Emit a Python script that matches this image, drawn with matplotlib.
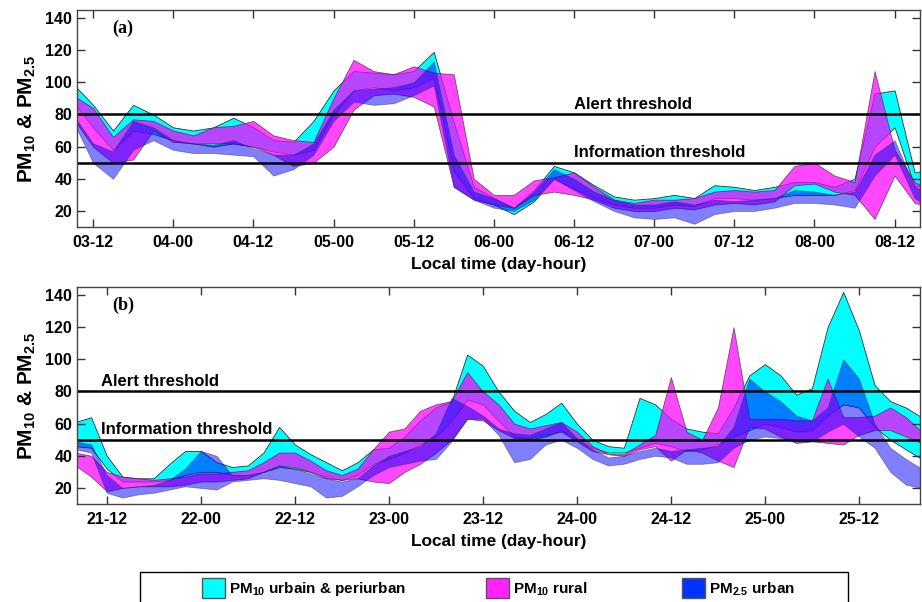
import numpy as np
import matplotlib
matplotlib.use("Agg")
import matplotlib.pyplot as plt
import matplotlib.patches as mpatches

plt.rcParams['font.family'] = 'Liberation Sans'
plt.rcParams['font.weight'] = 'bold'
plt.rcParams['mathtext.fontset'] = 'custom'
plt.rcParams['mathtext.rm'] = 'Liberation Sans'
plt.rcParams['mathtext.bf'] = 'Liberation Sans:bold'

# ---- panel (a): hours since day 03 00h, one value every 3 h
hours_a = np.arange(9, 139, 3)
ticks_a = [12, 24, 36, 48, 60, 72, 84, 96, 108, 120, 132]
labels_a = ['03-12', '04-00', '04-12', '05-00', '05-12', '06-00',
            '06-12', '07-00', '07-12', '08-00', '08-12']

cyan_hi_a = [99, 86, 70, 86, 80, 72, 70, 72, 78, 72, 64, 63, 76, 95, 107, 106, 105, 107, 119, 75,
             35, 28, 22, 33, 48, 44, 36, 29, 27, 28, 30, 28, 36, 35, 33, 35, 38, 38, 35, 40,
             93, 95, 44, 46]
cyan_lo_a = [88, 72, 58, 70, 68, 64, 62, 60, 62, 60, 57, 55, 58, 80, 95, 97, 95, 97, 103, 45,
             28, 24, 18, 26, 40, 34, 28, 24, 22, 22, 24, 23, 28, 28, 27, 28, 30, 30, 30, 33,
             60, 72, 35, 38]
mag_hi_a = [92, 84, 66, 77, 76, 70, 67, 72, 73, 76, 67, 64, 63, 90, 114, 107, 105, 110, 106, 105,
            40, 30, 30, 39, 41, 44, 35, 27, 25, 27, 27, 28, 32, 33, 32, 33, 48, 50, 42, 38,
            107, 58, 38, 32]
mag_lo_a = [78, 60, 50, 52, 70, 63, 62, 62, 62, 60, 55, 48, 50, 60, 83, 92, 93, 91, 85, 35,
            27, 24, 22, 30, 32, 30, 27, 22, 20, 20, 22, 21, 24, 25, 24, 26, 36, 37, 32, 30,
            15, 42, 25, 22]
blue_hi_a = [80, 62, 57, 76, 72, 64, 62, 61, 64, 59, 55, 55, 62, 83, 95, 96, 97, 100, 113, 55,
             32, 28, 22, 32, 46, 40, 32, 27, 24, 24, 26, 24, 27, 26, 27, 28, 33, 32, 30, 32,
             55, 64, 35, 30]
blue_lo_a = [76, 50, 40, 58, 64, 58, 56, 56, 55, 54, 42, 46, 55, 76, 88, 86, 87, 92, 98, 35,
             27, 22, 20, 27, 40, 33, 26, 20, 16, 15, 16, 12, 18, 20, 20, 22, 25, 25, 24, 22,
             42, 55, 28, 20]

# ---- panel (b): hours since day 21 00h, one value every 2 h
hours_b = np.arange(8, 117, 2)
ticks_b = [12, 24, 36, 48, 60, 72, 84, 96, 108]
labels_b = ['21-12', '22-00', '22-12', '23-00', '23-12', '24-00', '24-12', '25-00', '25-12']

cyan_hi_b = [61, 64, 40, 27, 26, 26, 35, 43, 43, 36, 33, 34, 42, 58, 47, 41, 36, 31, 36, 44,
             45, 52, 62, 70, 74, 103, 96, 80, 68, 61, 66, 73, 60, 50, 46, 45, 76, 72, 63, 57,
             55, 54, 70, 90, 97, 90, 78, 82, 120, 142, 118, 84, 74, 70, 64]
cyan_lo_b = [46, 45, 32, 24, 24, 24, 25, 28, 30, 30, 28, 28, 30, 33, 32, 30, 27, 25, 28, 35,
             38, 42, 47, 52, 62, 75, 72, 62, 52, 50, 52, 56, 50, 45, 42, 42, 45, 48, 46, 43,
             44, 47, 52, 56, 60, 58, 55, 56, 65, 72, 70, 58, 50, 44, 38]
mag_hi_b = [42, 40, 30, 27, 26, 25, 26, 27, 29, 29, 30, 31, 36, 42, 42, 37, 31, 28, 32, 44,
            55, 57, 68, 72, 74, 92, 80, 72, 60, 57, 59, 61, 55, 46, 41, 41, 47, 53, 89, 55,
            50, 70, 120, 63, 63, 63, 62, 62, 88, 64, 64, 65, 70, 64, 55]
mag_lo_b = [34, 27, 18, 20, 21, 21, 21, 22, 24, 24, 25, 26, 30, 34, 33, 30, 26, 25, 26, 24,
            23, 30, 35, 42, 50, 63, 62, 56, 51, 51, 53, 55, 49, 43, 41, 40, 44, 46, 37, 44,
            42, 37, 33, 58, 57, 52, 48, 49, 48, 47, 53, 56, 56, 52, 48]
blue_hi_b = [49, 47, 28, 20, 21, 22, 25, 32, 43, 40, 28, 28, 30, 34, 32, 29, 26, 24, 26, 34,
             40, 43, 46, 54, 76, 71, 65, 57, 54, 53, 57, 61, 51, 44, 39, 40, 43, 45, 43, 44,
             45, 46, 58, 88, 80, 74, 65, 62, 70, 100, 88, 60, 45, 38, 32]
blue_lo_b = [44, 42, 17, 14, 16, 17, 19, 21, 20, 19, 24, 25, 26, 25, 23, 21, 14, 15, 21, 28,
             33, 35, 37, 38, 49, 63, 63, 53, 36, 38, 47, 50, 45, 38, 34, 35, 38, 40, 39, 35,
             35, 36, 45, 50, 52, 51, 49, 49, 55, 60, 52, 45, 30, 22, 20]

alert_level = 80
info_level = 50

series_names = ['PM$_{10}$ urbain & periurban', 'PM$_{10}$ rural', 'PM$_{2.5}$ urban']
fill_colors = ['#00FFFF', '#FF00FF', '#0000FF']
fill_alpha = [1.0, 0.72, 0.5]
legend_colors = ['#00FFFF', '#FF22FF', '#0033FF']


def draw_panel(ax, hours, bands, ticks, labels, xlim, tag, txt_x):
    for (hi, lo), col, a in zip(bands, fill_colors, fill_alpha):
        ax.fill_between(hours, lo, hi, facecolor=col, alpha=a,
                        edgecolor='#333333', linewidth=0.6)
    ax.axhline(alert_level, color='black', linewidth=1.8)
    ax.axhline(info_level, color='black', linewidth=1.8)
    ax.text(txt_x, alert_level + 1.5, 'Alert threshold', fontsize=12,
            fontweight='bold', va='bottom')
    ax.text(txt_x, info_level + 1.5, 'Information threshold', fontsize=12,
            fontweight='bold', va='bottom')
    ax.text(0.042, 0.915, tag, transform=ax.transAxes, fontsize=13,
            fontweight='bold', family='Liberation Serif', va='center')
    ax.set_xlim(*xlim)
    ax.set_ylim(10, 145)
    ax.set_yticks([20, 40, 60, 80, 100, 120, 140])
    ax.set_xticks(ticks)
    ax.set_xticklabels(labels)
    ax.tick_params(direction='in', top=True, right=True, length=6, width=1,
                   labelsize=11.5, color='#333333')
    ax.tick_params(axis='x', pad=6)
    for lab in ax.get_xticklabels() + ax.get_yticklabels():
        lab.set_fontweight('bold')
    for sp in ax.spines.values():
        sp.set_color('#444444')
        sp.set_linewidth(1.0)
    ax.set_xlabel('Local time (day-hour)', fontsize=12.4, fontweight='bold', labelpad=5)
    ax.set_ylabel('PM$_{10}$ & PM$_{2.5}$', fontsize=15, fontweight='bold')
    ax.yaxis.set_label_coords(-0.046, 0.5)


fig = plt.figure(figsize=(9.22, 6.02), dpi=100)
ax_a = fig.add_axes([77 / 922, 1 - 227 / 602, 843 / 922, 217 / 602])
ax_b = fig.add_axes([77 / 922, 1 - 504 / 602, 843 / 922, 217 / 602])

draw_panel(ax_a, hours_a,
           [(cyan_hi_a, cyan_lo_a), (mag_hi_a, mag_lo_a), (blue_hi_a, blue_lo_a)],
           ticks_a, labels_a, (9.6, 135.8), '(a)', 84)
draw_panel(ax_b, hours_b,
           [(cyan_hi_b, cyan_lo_b), (mag_hi_b, mag_lo_b), (blue_hi_b, blue_lo_b)],
           ticks_b, labels_b, (8.2, 115.8), '(b)', 11.3)

# legend box along the bottom edge, one entry per series
fig.patches.append(mpatches.Rectangle((140 / 922, -0.01), 708 / 922, 1 - 572 / 602 + 0.01,
                                      transform=fig.transFigure, fill=False,
                                      edgecolor='black', linewidth=1.0))
entry_x = [202, 486, 682]
for c, n, xp in zip(legend_colors, series_names, entry_x):
    h = mpatches.Patch(facecolor=c, edgecolor='#555555', label=n)
    fig.legend(handles=[h], loc='center left', bbox_to_anchor=(xp / 922, 1 - 588 / 602),
               frameon=False, fontsize=11, handlelength=1.5, handleheight=1.7,
               handletextpad=0.25, borderpad=0, borderaxespad=0)

fig.savefig('out.png', dpi=100)
